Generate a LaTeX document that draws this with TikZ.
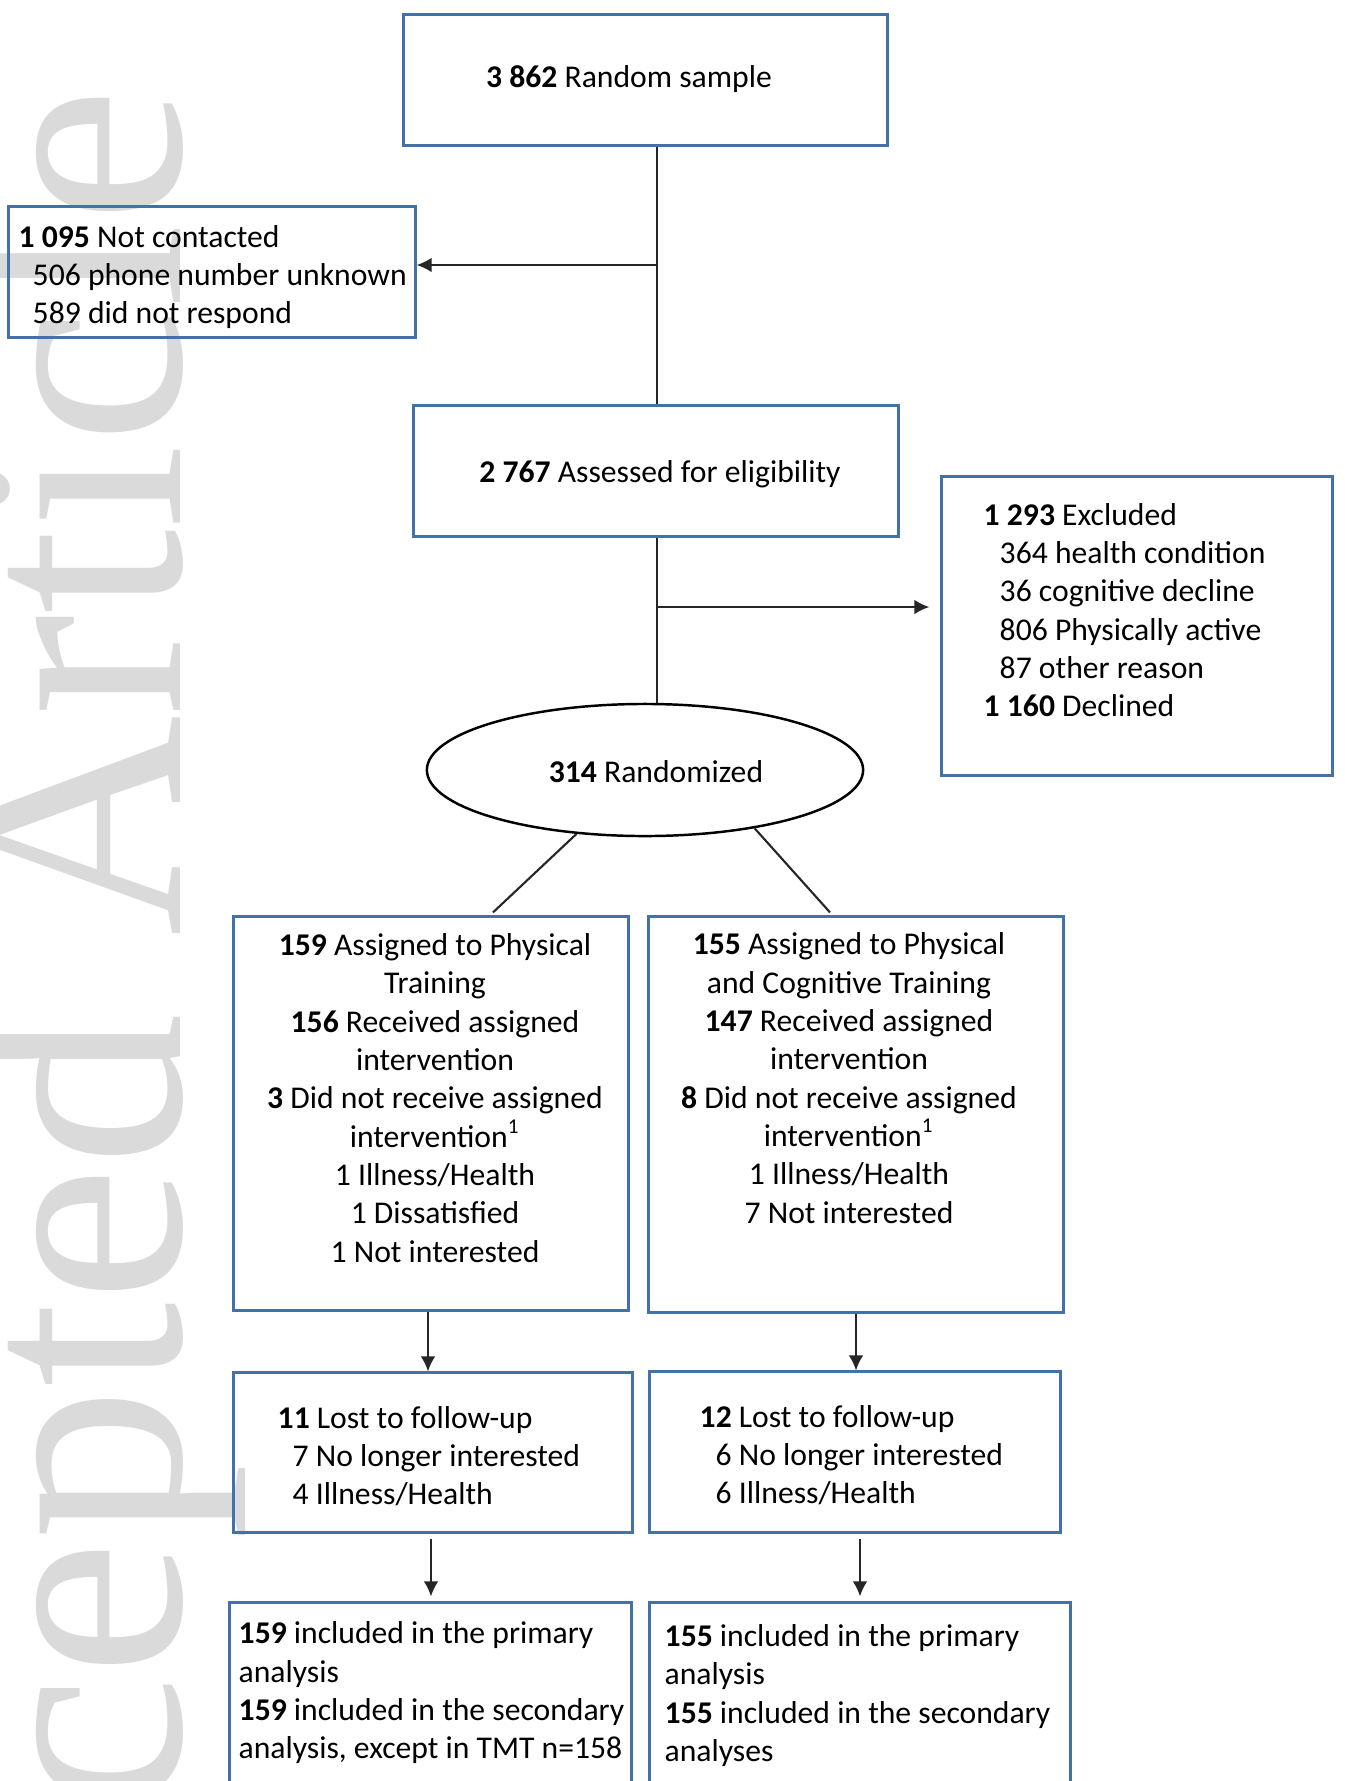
\documentclass[tikz,border=0pt]{standalone}
\usepackage{fontspec}
\setmainfont{Carlito}
\newfontfamily\wmfont{Liberation Serif}
\usepackage{tikz}
\usetikzlibrary{arrows.meta, shapes.geometric, calc}
\definecolor{boxblue}{RGB}{68,114,168}
\definecolor{wmgray}{RGB}{218,218,218}
\tikzstyle{box} = [draw=boxblue, line width=0.85pt, inner sep=0pt]
\tikzstyle{txt} = [inner sep=0pt, font=\fontsize{9}{10.9}\selectfont]
\tikzstyle{link} = [line width=0.6pt, draw=black!85]
\tikzstyle{arr} = [link, -{Latex[length=4.3pt, width=4.2pt]}]

\begin{document}
\begin{tikzpicture}[x=0.01cm, y=-0.01cm]

\useasboundingbox (0, 0) rectangle (1344, 1781);
\clip (0, 0) rectangle (1344, 1781);
\fill [white] (0, 0) rectangle (1344, 1781);

% watermark
\node [wmgray, rotate=90, anchor=base east, inner sep=0pt, font=\wmfont\fontsize{87}{87}\selectfont] (mark) at (180, 87) {Accepted Article};

% boxes
\node [box, minimum width=4.83cm, minimum height=1.30cm] (start) at (645.5, 80) {};
\node [box, minimum width=4.065cm, minimum height=1.30cm] (ncont) at (211.75, 272) {};
\node [box, minimum width=4.84cm, minimum height=1.30cm] (assess) at (656, 471) {};
\node [box, minimum width=3.90cm, minimum height=2.98cm] (excl) at (1137, 626) {};
\node [draw=black, line width=0.7pt, ellipse, inner sep=0pt, minimum width=4.36cm, minimum height=1.32cm] (rand) at (645, 770) {};
\node [box, minimum width=3.94cm, minimum height=3.93cm] (grpA) at (431, 1113.5) {};
\node [box, minimum width=4.14cm, minimum height=3.95cm] (grpB) at (856, 1114.5) {};
\node [box, minimum width=3.98cm, minimum height=1.59cm] (lostA) at (433, 1452.5) {};
\node [box, minimum width=4.10cm, minimum height=1.60cm] (lostB) at (855, 1452) {};
\node [box, minimum width=4.01cm, minimum height=2.47cm] (finA) at (430.5, 1726.5) {};
\node [box, minimum width=4.20cm, minimum height=2.47cm] (finB) at (860, 1726.5) {};

% texts
\node [txt] (startTxt) at (629, 79) {\textbf{3 862} Random sample};
\node [txt, anchor=west, align=left] (ncontTxt) at (18, 277) {\textbf{1 095} Not contacted\\ \hspace*{0.14cm}506 phone number unknown\\ \hspace*{0.14cm}589 did not respond};
\node [txt] (assessTxt) at (660, 474) {\textbf{2 767} Assessed for eligibility};
\node [txt, anchor=west, align=left] (exclTxt) at (983, 610) {\textbf{1 293} Excluded\\ \hspace*{0.16cm}364 health condition\\ \hspace*{0.16cm}36 cognitive decline\\ \hspace*{0.16cm}806 Physically active\\ \hspace*{0.16cm}87 other reason\\ \textbf{1 160} Declined};
\node [txt] (randTxt) at (656, 772) {\textbf{314} Randomized};
\node [txt, align=center] (grpATxt) at (435, 1098) {\textbf{159} Assigned to Physical\\ Training\\ \textbf{156} Received assigned\\ intervention\\ \textbf{3} Did not receive assigned\\ intervention\textsuperscript{1}\\ 1 Illness/Health\\ 1 Dissatisfied\\ 1 Not interested};
\node [txt, align=center] (grpBTxt) at (849, 1078) {\textbf{155} Assigned to Physical\\ and Cognitive Training\\ \textbf{147} Received assigned\\ intervention\\ \textbf{8} Did not receive assigned\\ intervention\textsuperscript{1}\\ 1 Illness/Health\\ 7 Not interested};
\node [txt, anchor=west, align=left] (lostATxt) at (277, 1456) {\textbf{11} Lost to follow-up\\ \hspace*{0.15cm}7 No longer interested\\ \hspace*{0.15cm}4 Illness/Health};
\node [txt, anchor=west, align=left] (lostBTxt) at (699, 1455) {\textbf{12} Lost to follow-up\\ \hspace*{0.16cm}6 No longer interested\\ \hspace*{0.16cm}6 Illness/Health};
\node [txt, anchor=west, align=left] (finATxt) at (238, 1693) {\textbf{159} included in the primary\\ analysis\\ \textbf{159} included in the secondary\\ analysis, except in TMT n=158};
\node [txt, anchor=west, align=left] (finBTxt) at (664, 1695.5) {\textbf{155} included in the primary\\ analysis\\ \textbf{155} included in the secondary\\ analyses};

% connectors
\coordinate (trunk) at (657, 0);
\coordinate (j1) at (657, 265);
\coordinate (j2) at (657, 607);
\draw [link] (start.south -| trunk) -- (assess.north -| trunk);
\draw [link] (assess.south -| trunk) -- (rand.north -| trunk);
\draw [arr] (j1) -- (j1 -| ncont.east);
\draw [arr] (j2) -- ($(j2 -| excl.west)+(-11, 0)$);
\draw [link] (rand.223.7) -- ($(grpA.north)+(62, -3)$);
\draw [link] (rand.332.8) -- ($(grpB.north)+(-26, -3)$);
\draw [arr] ($(grpA.south)+(-3, 0)$) -- ($(grpA.south |- lostA.north)+(-3, 0)$);
\draw [arr] (grpB.south) -- (grpB.south |- lostB.north);
\draw [arr] ($(lostA.south)+(-2, 5)$) -- ($(lostA.south |- finA.north)+(-2, -5)$);
\draw [arr] ($(lostB.south -| finB.north)+(0, 5)$) -- ($(finB.north)+(0, -5)$);

\end{tikzpicture}
\end{document}
